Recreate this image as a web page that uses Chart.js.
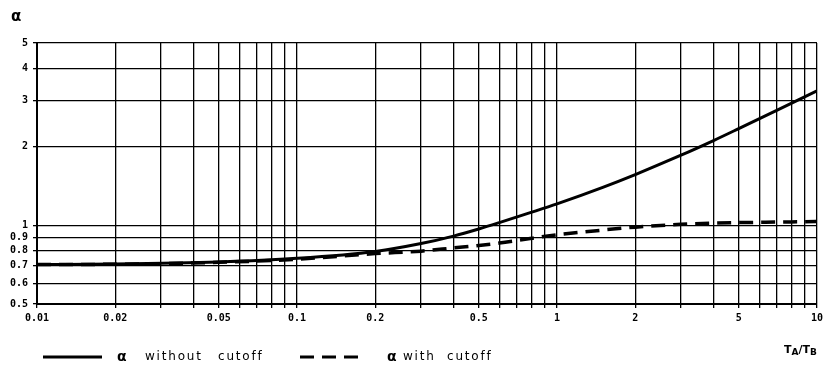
<!DOCTYPE html>
<html>
<head>
<meta charset="utf-8">
<script src="https://cdn.jsdelivr.net/npm/chart.js@4.4.1/dist/chart.umd.min.js"></script>
<style>
  html, body { margin: 0; padding: 0; background: #fff; }
  #wrap { width: 827px; height: 373px; }
</style>
</head>
<body>
<div id="wrap"><canvas id="alphaChart" width="827" height="373"></canvas></div>
<script>
// Chart values
var ratioValues = [0.01, 0.02, 0.05, 0.1, 0.2, 0.3, 0.4, 0.5, 0.6, 0.8, 1, 1.5, 2, 3, 4, 5, 7, 10];
var alphaNoCutoff = [0.708, 0.711, 0.724, 0.748, 0.795, 0.852, 0.91, 0.969, 1.025, 1.124, 1.21, 1.4, 1.567, 1.858, 2.114, 2.349, 2.76, 3.28];
var alphaCutoff = [0.708, 0.71, 0.722, 0.742, 0.78, 0.797, 0.82, 0.838, 0.856, 0.893, 0.92, 0.96, 0.985, 1.01, 1.02, 1.025, 1.03, 1.035];

var xGrid = [0.01,0.02,0.03,0.04,0.05,0.06,0.07,0.08,0.09,0.1,0.2,0.3,0.4,0.5,0.6,0.7,0.8,0.9,1,2,3,4,5,6,7,8,9,10];
var xLabels = [0.01, 0.02, 0.05, 0.1, 0.2, 0.5, 1, 2, 5, 10];
var yGrid = [0.5, 0.6, 0.7, 0.8, 0.9, 1, 2, 3, 4, 5];
var seriesNames = ['without cutoff', 'with cutoff'];

function pts(ys){
  return ratioValues.map(function(x, i){ return {x: x, y: ys[i]}; });
}

// Axis titles and legend drawn on the canvas
var extras = {
  id: 'extras',
  afterDraw: function(chart){
    var ctx = chart.ctx;
    ctx.save();
    ctx.fillStyle = '#000';
    ctx.textBaseline = 'middle';

    ctx.font = 'bold 15px "DejaVu Sans"';
    ctx.fillText('\u03b1', 11, 17);

    // T_A / T_B
    ctx.font = 'bold 11px "DejaVu Sans"';
    var x = 784, y = 350;
    ctx.fillText('T', x, y); x += ctx.measureText('T').width;
    ctx.font = 'bold 9px "DejaVu Sans"';
    ctx.fillText('A', x, y + 3); x += ctx.measureText('A').width;
    ctx.font = 'bold 11px "DejaVu Sans"';
    ctx.fillText('/T', x, y); x += ctx.measureText('/T').width;
    ctx.font = 'bold 9px "DejaVu Sans"';
    ctx.fillText('B', x, y + 3);

    // legend
    var ly = 357;
    ctx.strokeStyle = '#000';
    ctx.lineWidth = 3;
    ctx.beginPath(); ctx.moveTo(43, ly); ctx.lineTo(102, ly); ctx.stroke();
    ctx.setLineDash([14, 8]);
    ctx.beginPath(); ctx.moveTo(300, ly); ctx.lineTo(363, ly); ctx.stroke();
    ctx.setLineDash([]);

    ctx.font = 'bold 14px "DejaVu Sans"';
    ctx.fillText('\u03b1', 117, ly);
    ctx.fillText('\u03b1', 387, ly);
    ctx.font = '12px "DejaVu Sans"';
    ctx.letterSpacing = '1.8px';
    var w0 = seriesNames[0].split(' ');
    var w1 = seriesNames[1].split(' ');
    ctx.fillText(w0[0], 145, ly);
    ctx.fillText(w0[1], 218, ly);
    ctx.fillText(w1[0], 403, ly);
    ctx.fillText(w1[1], 447, ly);
    ctx.restore();
  }
};

var ctx = document.getElementById('alphaChart').getContext('2d');
var alphaChart = new Chart(ctx, {
  type: 'line',
  data: {
    datasets: [{
      label: seriesNames[0],
      data: pts(alphaNoCutoff),
      borderColor: '#000',
      borderWidth: 3,
      pointRadius: 0,
      cubicInterpolationMode: 'monotone',
      fill: false
    }, {
      label: seriesNames[1],
      data: pts(alphaCutoff),
      borderColor: '#000',
      borderWidth: 3.5,
      borderDash: [14, 8],
      pointRadius: 0,
      cubicInterpolationMode: 'monotone',
      fill: false
    }]
  },
  options: {
    responsive: false,
    animation: false,
    layout: { padding: { top: 43, right: 10, bottom: 49, left: 0 } },
    plugins: {
      legend: { display: false },
      tooltip: { enabled: false }
    },
    scales: {
      x: {
        type: 'logarithmic',
        min: 0.01,
        max: 10,
        afterBuildTicks: function(scale){
          scale.ticks = xGrid.map(function(v){ return {value: v}; });
        },
        afterFit: function(scale){ scale.height = 20; },
        grid: { color: '#000', lineWidth: 1.3, tickLength: 4, tickColor: '#000' },
        border: { color: '#000', width: 2 },
        ticks: {
          autoSkip: false,
          maxRotation: 0,
          padding: 4,
          color: '#000',
          font: { family: '"DejaVu Sans Mono"', size: 10, weight: 'bold' },
          callback: function(v){
            return xLabels.indexOf(v) >= 0 ? String(v) : '';
          }
        }
      },
      y: {
        type: 'logarithmic',
        min: 0.5,
        max: 5,
        afterBuildTicks: function(scale){
          scale.ticks = yGrid.map(function(v){ return {value: v}; });
        },
        afterFit: function(scale){ scale.width = 37; },
        grid: { color: '#000', lineWidth: 1.3, tickLength: 4, tickColor: '#000' },
        border: { color: '#000', width: 2 },
        ticks: {
          autoSkip: false,
          padding: 5,
          color: '#000',
          font: { family: '"DejaVu Sans Mono"', size: 10, weight: 'bold' },
          callback: function(v){ return String(v); }
        }
      }
    }
  },
  plugins: [extras]
});
</script>
</body>
</html>
